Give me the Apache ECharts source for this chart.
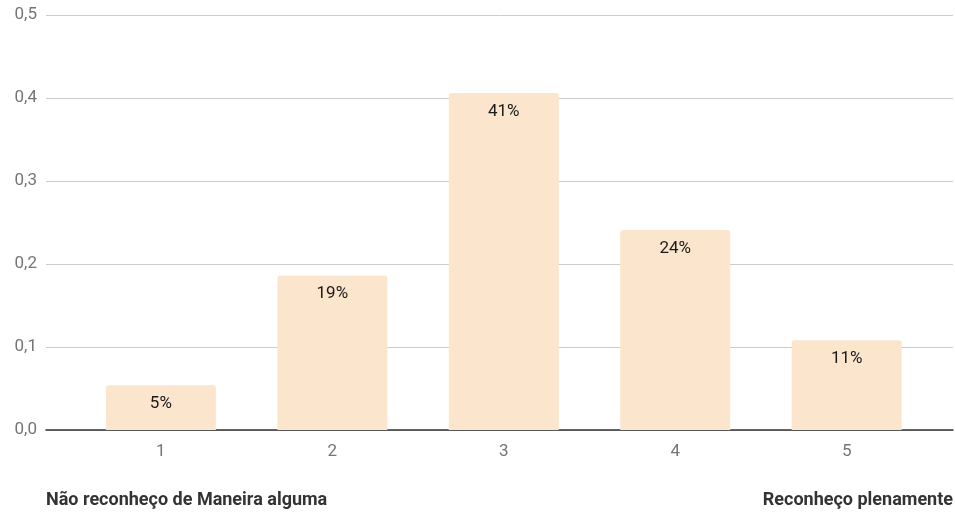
<!DOCTYPE html>
<html>
<head>
<meta charset="utf-8">
<script src="https://cdn.jsdelivr.net/npm/echarts@6/dist/echarts.min.js"></script>
<style>
  html, body { margin: 0; padding: 0; background: #fff; }
  #chart { width: 955px; height: 512px; }
</style>
</head>
<body>
<div id="chart"></div>
<script>
// Rating scale positions and the share of answers for each
const categories = [1, 2, 3, 4, 5];
const shares = [0.054, 0.186, 0.406, 0.241, 0.108];
const yTicks = [0, 0.1, 0.2, 0.3, 0.4, 0.5];
const leftNote = 'Não reconheço de Maneira alguma';
const rightNote = 'Reconheço plenamente';

const FONT = 'Roboto, "Noto Sans", sans-serif';

const chart = echarts.init(document.getElementById('chart'), null, { renderer: 'canvas' });

chart.setOption({
  animation: false,
  backgroundColor: '#ffffff',
  textStyle: { fontFamily: FONT },
  title: [
    {
      text: leftNote, left: 41, top: 486,
      textStyle: { fontFamily: FONT, fontSize: 18, fontWeight: 'bold', color: '#333333' }
    },
    {
      text: rightNote, right: -3, top: 486,
      textStyle: { fontFamily: FONT, fontSize: 18, fontWeight: 'bold', color: '#333333' }
    }
  ],
  grid: { left: 46, right: 2, top: 15, bottom: 82, containLabel: false },
  xAxis: {
    type: 'value',
    min: 0.33,
    max: 5.62,
    axisLine: { show: true, onZero: false, lineStyle: { color: '#333333', width: 1.5 } },
    axisTick: { show: false },
    splitLine: { show: false },
    axisLabel: {
      customValues: categories,
      color: '#757575', fontSize: 17, fontFamily: FONT, margin: 13,
      formatter: v => String(v)
    }
  },
  yAxis: {
    type: 'value',
    min: yTicks[0],
    max: yTicks[yTicks.length - 1],
    interval: 0.1,
    axisLine: { show: false },
    axisTick: { show: false },
    splitLine: { lineStyle: { color: '#cccccc', width: 1 } },
    axisLabel: {
      color: '#757575', fontSize: 17, fontFamily: FONT, margin: 9,
      formatter: v => v.toFixed(1).replace('.', ',')
    }
  },
  series: [{
    type: 'bar',
    data: categories.map((c, i) => [c, shares[i]]),
    barWidth: 110,
    itemStyle: { color: '#fce5cd', borderRadius: [3, 3, 0, 0] },
    label: {
      show: true,
      position: 'insideTop',
      distance: 10,
      color: '#1a1a1a',
      fontSize: 17,
      fontFamily: FONT,
      formatter: p => Math.round(p.value[1] * 100) + '%'
    }
  }]
});
</script>
</body>
</html>
